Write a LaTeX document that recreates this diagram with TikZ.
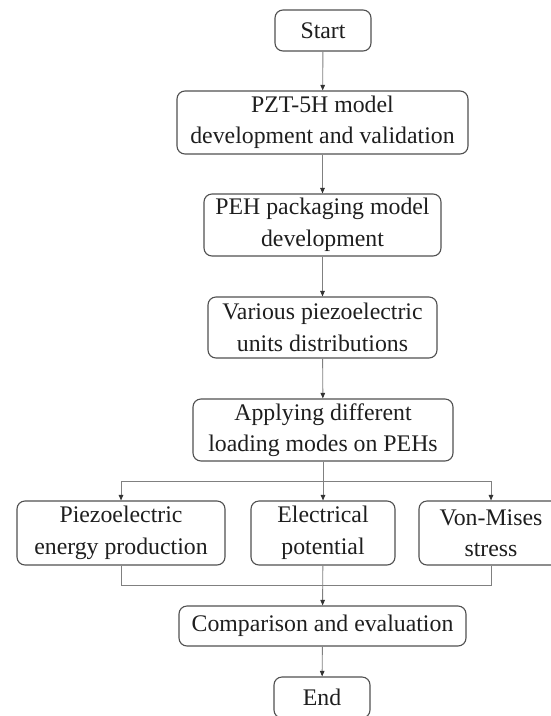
\documentclass[tikz,border=0pt]{standalone}
\usepackage{fontspec}
\setmainfont{Liberation Serif}
\usetikzlibrary{arrows.meta}
\definecolor{boxline}{HTML}{505050}
\definecolor{conn}{HTML}{808080}
\definecolor{txt}{HTML}{1E1E1E}
\tikzset{
  box/.style={draw=boxline, line width=1.1pt, rounded corners=8pt, align=center,
    inner sep=0pt, text=txt, font=\fontsize{23.8}{31.5}\selectfont},
  link/.style={draw=conn, line width=0.9pt},
  arr/.style={link, -{Triangle[length=5.5pt,width=4.5pt,fill=black!80,color=black!80]}}
}
\begin{document}
\begin{tikzpicture}[x=1pt,y=-1pt]
\useasboundingbox (0,0) rectangle (551,716);
\clip (0,0) rectangle (551,716);
\node[box, minimum width=96pt, minimum height=41pt] (start) at (323,30.5) {Start};
\node[box, minimum width=291pt, minimum height=63pt] (pzt) at (322.5,122.5) {PZT-5H model\\development and validation};
\node[box, minimum width=237pt, minimum height=62pt] (peh) at (322.5,225) {PEH packaging model\\development};
\node[box, minimum width=229pt, minimum height=61pt] (var) at (322.5,327.5) {Various piezoelectric\\units distributions};
\node[box, minimum width=260pt, minimum height=62pt] (app) at (323,430) {Applying different\\loading modes on PEHs};
\node[box, minimum width=208pt, minimum height=64pt] (piezo) at (121,533) {Piezoelectric\\energy production};
\node[box, minimum width=144pt, minimum height=64pt] (elec) at (323,533) {Electrical\\potential};
\node[box, minimum width=144pt, minimum height=64pt] (von) at (491,533) {Von-Mises\\stress};
\node[box, minimum width=287pt, minimum height=40pt] (comp) at (322.5,626) {Comparison and evaluation};
\node[box, minimum width=96pt, minimum height=41pt] (end) at (322,697.5) {End};

\coordinate (bl) at (piezo.north |- 0,481);
\coordinate (br) at (von.north |- 0,481);
\coordinate (ml) at (piezo.south |- 0,585);
\coordinate (mr) at (von.south |- 0,585);

\draw[arr] (start) -- (pzt);
\draw[arr] (pzt) -- (peh);
\draw[arr] (peh) -- (var);
\draw[arr] (var) -- (app);
\draw[arr] (app) -- (elec);
\draw[link] (bl) -- (br);
\draw[arr] (bl) -- (piezo.north);
\draw[arr] (br) -- (von.north);
\draw[link] (piezo.south) -- (ml) -- (mr) -- (von.south);
\draw[arr] (elec) -- (comp);
\draw[arr] (comp) -- (end);
\end{tikzpicture}
\end{document}
